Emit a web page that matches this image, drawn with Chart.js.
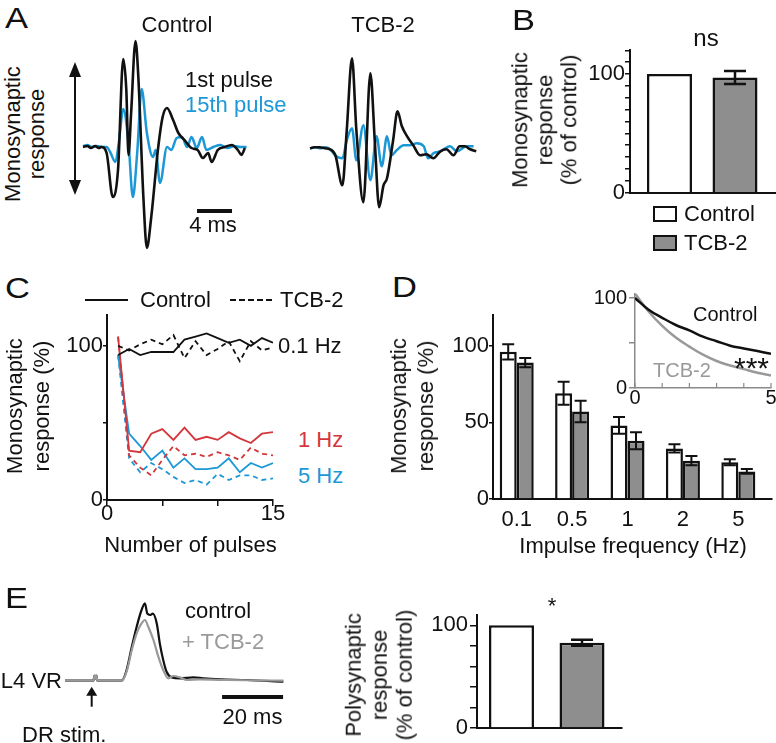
<!DOCTYPE html>
<html><head><meta charset="utf-8">
<script src="https://cdn.jsdelivr.net/npm/chart.js@4.4.1/dist/chart.umd.min.js"></script>
<style>
html,body{margin:0;padding:0;background:#fff;}
#fig{position:relative;width:776px;height:743px;overflow:hidden;font-family:"Liberation Sans",Arial,Helvetica,sans-serif;color:#111;}
#fig canvas{position:absolute;}
.t{position:absolute;white-space:pre;}
</style></head><body><div id="fig"></div>
<script>
// ---------------- DATA ----------------
// Panel A: example traces (time in ms, amplitude in arbitrary units)
const A_CTRL_1ST_T = [0,0.5,0.9,1.4,1.8,2.1,2.7,3.4,4.0,4.6,4.95,5.2,5.5,6.0,6.3,6.9,7.3,7.8,8.6,9.1,9.6,10.3,10.9,11.6,12.4,13.1,13.7,14.3,14.7,15.4,16.2,17.0,17.7,18.1,18.5];
const A_CTRL_1ST_V = [0,1,-1,1,-1,0,-6,-50,-23,88,57,-8,34,106,74,-50,-101,-70,0,30,39,27,14,7,-1,-3,-11,-6,-15,-3,0,2,-3,-8,-1];
const A_CTRL_15TH_T = [0,0.5,1.0,1.6,2.2,2.7,3.1,3.7,4.1,4.6,5.2,5.7,6.2,6.7,7.3,8.0,8.3,8.8,9.6,10.1,10.7,11.3,11.9,12.4,13.0,13.6,14.1,14.9,15.7,16.5,17.3,18.0,18.7];
const A_CTRL_15TH_V = [1,2,0,1,0,0,-5,-15,5,38,4,-50,-5,58,14,-10,-3,-36,0,-3,9,10,0,10,-1,10,-3,0,2,-1,1,0,0];
const A_TCB_1ST_T = [0,0.5,1.1,1.7,2.3,2.9,3.7,4.2,4.8,5.3,6.1,6.9,7.4,7.9,8.4,8.8,9.5,10.0,10.5,11.1,11.8,12.6,13.3,14.1,14.9,15.6,16.4,17.1,17.7,18.3,19.0];
const A_TCB_1ST_V = [0,1,1,0,-1,-7,-37,18,90,18,-54,75,8,-59,-37,-30,8,37,22,12,3,-7,-6,-10,-3,-1,-7,2,2,-1,-3];
const A_TCB_15TH_T = [0,0.6,1.2,1.8,2.4,3.0,3.7,4.2,4.8,5.3,6.1,6.9,7.6,8.2,8.8,9.3,9.9,10.7,11.4,12.2,13.0,13.5,14.1,14.9,16.0,16.8,17.9,18.7];
const A_TCB_15TH_V = [0,1,0,1,-2,-8,-10,8,20,-12,23,-32,12,-18,12,-7,-2,3,3,5,2,-10,-5,-3,2,-3,2,2];
const A_SCALE_MS = 4;

// Panel B
const B_CATEGORIES = ['Control','TCB-2'];
const B_VALUES = [100, 97];
const B_ERRORS = [0, 5.5];
const B_TICKS = [0,10,20,30,40,50,60,70,80,90,100,110,120];
const B_TICK_LABELS = [0,100];

// Panel C
const C_PULSES = [1,2,3,4,5,6,7,8,9,10,11,12,13,14,15];
const C_CTRL_01HZ = [94,98,94,96,96,96,104,106,108,105,102,104,100,105,102];
const C_TCB_01HZ  = [100,97,101,104,101,107,92,103,94,98,103,90,103,97,99];
const C_CTRL_1HZ  = [106,32,31,43,46,39,47,39,41,39,44,40,37,43,44];
const C_TCB_1HZ   = [106,29,21,16,26,35,29,30,28,31,29,26,34,30,29];
const C_CTRL_5HZ  = [94,43,35,26,32,21,27,20,20,21,27,18,24,21,24];
const C_TCB_5HZ   = [94,27,18,24,20,15,11,13,10,17,13,16,16,13,14];
const C_X_TICKS = [0,5,10,15];
const C_X_LABELS = [0,15];
const C_Y_TICKS = [0,50,100];
const C_Y_LABELS = [0,100];

// Panel D
const D_FREQS = ['0.1','0.5','1','2','5'];
const D_CTRL = [96,69,48,33,24];
const D_CTRL_ERR = [5,7.5,5.5,2.7,2];
const D_TCB = [89,57,38,25,18];
const D_TCB_ERR = [3,7,5.5,3,1.5];
const D_Y_TICKS = [0,50,100];
// inset: fitted decay curves
const D_INSET_X = [0,0.5,1,1.5,2,2.5,3,3.5,4,4.5,5];
const D_INSET_CTRL = [100,87,78,70,64,57,52,47,44,41,38];
const D_INSET_TCB  = [105,85,69,56,46,37,30,25,21,17,14];
const D_INSET_X_TICKS = [0,1,2,3,4,5];
const D_INSET_X_LABELS = [0,5];
const D_INSET_Y_TICKS = [0,50,100];
const D_INSET_Y_LABELS = [0,100];

// Panel E
const E_CTRL_T = [0,9.3,9.7,10.0,10.3,10.6,18.6,20.2,21.9,23.5,25.1,26.2,27.0,27.9,28.8,30.1,31.1,32.2,33.3,35.0,37.7,42.1,45.3,50.8,59.6,71.6];
const E_CTRL_V = [0,0,5,2,5,0,0,10.7,34,54,70.7,77.4,67,65.7,67,57,37,20.7,9,3.3,2.3,3.3,2.3,1.3,0.7,-1];
const E_TCB_T = [0,9.3,9.7,10.0,10.3,10.6,18.6,20.2,21.9,23.5,25.1,26.2,27.3,29.0,30.6,32.2,33.9,35.5,37.7,39.9,44.3,53.0,71.6];
const E_TCB_V = [0,0,5,2,5,0,0,9,30.7,47.3,57.3,60.7,54,40.7,24,10.7,2.3,4.7,3.3,0.7,1.3,0.7,0];
const E_SCALE_MS = 20;
const E_CATEGORIES = ['control','+ TCB-2'];
const E_VALUES = [100, 83];
const E_ERRORS = [0, 3];
const E_Y_TICKS = [0,20,40,60,80,100];
const E_Y_LABELS = [0,100];

// ---------------- SETUP ----------------
const INK = '#111';
const BLUE = '#1c98d6';
const RED = '#d4373b';
const GREY = '#999';
const BARGREY = '#8e8e8e';
Chart.defaults.font.family = '"Liberation Sans", Arial, Helvetica, sans-serif';
Chart.defaults.font.size = 22;
Chart.defaults.color = INK;
Chart.defaults.animation = false;
Chart.defaults.responsive = false;
Chart.defaults.plugins.legend.display = false;
Chart.defaults.plugins.tooltip.enabled = false;
Chart.defaults.events = [];

const fig = document.getElementById('fig');
function mkCanvas(left, top, w, h) {
  const c = document.createElement('canvas');
  c.width = w; c.height = h;
  c.style.left = left + 'px'; c.style.top = top + 'px';
  c.style.width = w + 'px'; c.style.height = h + 'px';
  fig.appendChild(c);
  return c;
}
function txt(s, x, capY, o = {}) {
  const size = o.size || 22;
  const d = document.createElement('div');
  d.className = 't'; d.textContent = s;
  d.style.fontSize = size + 'px'; d.style.lineHeight = size + 'px';
  d.style.top = (o.top != null ? o.top : capY - 0.4885 * size) + 'px';
  d.style.left = x + 'px';
  if (o.color) d.style.color = o.color;
  let tr = '';
  if (o.align === 'center') tr += 'translateX(-50%) ';
  else if (o.align === 'right') tr += 'translateX(-100%) ';
  if (o.sx) { tr += 'scaleX(' + o.sx + ')'; d.style.transformOrigin = 'left top'; }
  d.style.transform = tr;
  fig.appendChild(d);
  return d;
}
function vtxt(lines, cx, cy, lh, size = 22) {
  const d = document.createElement('div');
  d.className = 't'; d.textContent = lines.join('\n');
  d.style.fontSize = size + 'px'; d.style.lineHeight = lh + 'px';
  d.style.textAlign = 'center';
  d.style.left = cx + 'px'; d.style.top = cy + 'px';
  d.style.transform = 'translate(-50%,-50%) rotate(-90deg)';
  fig.appendChild(d);
}
function box(left, top, w, h, css) {
  const d = document.createElement('div');
  d.style.position = 'absolute';
  d.style.left = left + 'px'; d.style.top = top + 'px';
  d.style.width = w + 'px'; d.style.height = h + 'px';
  d.style.boxSizing = 'border-box';
  Object.assign(d.style, css);
  fig.appendChild(d);
}
function axis(o) {
  const tickLen = o.tickLen || 0;
  return {
    type: 'linear', min: o.min, max: o.max, position: o.position, offset: false,
    border: { display: true, color: o.color || INK, width: o.bw || 2 },
    grid: { display: true, offset: false, drawOnChartArea: false, drawTicks: tickLen !== 0, tickLength: tickLen, color: o.color || INK, lineWidth: o.tw || 1.5 },
    ticks: { display: o.labels !== false, padding: o.pad || 0, autoSkip: false, maxRotation: 0, minRotation: 0,
             font: { size: o.fs || 22, lineHeight: 1 }, color: INK, callback: o.cb || ((v) => '') },
    afterBuildTicks: (s) => { if (o.ticks) s.ticks = o.ticks.map(v => ({ value: v })); },
    afterFit: (s) => {
      if (o.position === 'bottom' || o.position === 'top') s.height = o.size; else s.width = o.size;
      s.paddingTop = s.paddingBottom = s.paddingLeft = s.paddingRight = 0;
    }
  };
}
function hidden(min, max) { return { type: 'linear', display: false, min, max }; }
function pts(xs, ys) { return xs.map((x, i) => ({ x, y: ys[i] })); }
function only(list) { return (v) => list.includes(v) ? String(v) : ''; }

// error bar plugin
Chart.register({
  id: 'errbars',
  afterDatasetsDraw(chart, args, opts) {
    if (!opts || !opts.errors) return;
    const ctx = chart.ctx, ys = chart.scales.y;
    ctx.save(); ctx.strokeStyle = INK; ctx.lineWidth = opts.lineWidth || 2;
    opts.errors.forEach((arr, di) => {
      const meta = chart.getDatasetMeta(di);
      meta.data.forEach((el, j) => {
        const e = arr[j]; if (!e) return;
        const raw = chart.data.datasets[di].data[j];
        const v = typeof raw === 'object' ? raw.y : raw;
        const y1 = ys.getPixelForValue(v + e), y2 = ys.getPixelForValue(v - e);
        const cw = opts.cap / 2;
        ctx.beginPath();
        ctx.moveTo(el.x, y1); ctx.lineTo(el.x, y2);
        ctx.moveTo(el.x - cw, y1); ctx.lineTo(el.x + cw, y1);
        ctx.moveTo(el.x - cw, y2); ctx.lineTo(el.x + cw, y2);
        ctx.stroke();
      });
    });
    ctx.restore();
  }
});
function arrowHead(ctx, x, y, w, h, dir) {
  ctx.beginPath();
  ctx.moveTo(x, y); ctx.lineTo(x - w / 2, y + dir * h); ctx.lineTo(x + w / 2, y + dir * h); ctx.closePath(); ctx.fill();
}
const traceLine = (color, w) => ({ borderColor: color, borderWidth: w, pointRadius: 0, cubicInterpolationMode: 'monotone', fill: false });

// ---------------- PANEL A ----------------
new Chart(mkCanvas(55, 30, 200, 230), {
  type: 'line',
  data: { datasets: [
    Object.assign({ data: pts(A_CTRL_1ST_T, A_CTRL_1ST_V) }, traceLine(INK, 2.6)),
    Object.assign({ data: pts(A_CTRL_15TH_T, A_CTRL_15TH_V) }, traceLine(BLUE, 2.5)),
  ]},
  options: {
    layout: { padding: 0 },
    scales: { x: hidden(-3.2, 19.657), y: hidden(-113, 117) }
  },
  plugins: [{ id: 'decoA', afterDatasetsDraw(chart) {
    const { ctx, scales: { x, y } } = chart;
    ctx.save(); ctx.fillStyle = INK; ctx.strokeStyle = INK;
    // double arrow
    const ax = x.getPixelForValue(-0.914), yt = y.getPixelForValue(85), yb = y.getPixelForValue(-48);
    ctx.lineWidth = 2; ctx.beginPath(); ctx.moveTo(ax, yt + 8); ctx.lineTo(ax, yb - 8); ctx.stroke();
    arrowHead(ctx, ax, yt, 12, 15, 1); arrowHead(ctx, ax, yb, 12, 15, -1);
    // scale bar
    const s0 = 13.03;
    ctx.lineWidth = 4; ctx.beginPath();
    ctx.moveTo(x.getPixelForValue(s0), y.getPixelForValue(-64));
    ctx.lineTo(x.getPixelForValue(s0 + A_SCALE_MS), y.getPixelForValue(-64)); ctx.stroke();
    ctx.restore();
  }}]
});
new Chart(mkCanvas(300, 30, 185, 230), {
  type: 'line',
  data: { datasets: [
    Object.assign({ data: pts(A_TCB_1ST_T, A_TCB_1ST_V) }, traceLine(INK, 2.6)),
    Object.assign({ data: pts(A_TCB_15TH_T, A_TCB_15TH_V) }, traceLine(BLUE, 2.5)),
  ]},
  options: { layout: { padding: 0 }, scales: { x: hidden(-1.143, 20.0), y: hidden(-111.7, 118.3) } }
});
txt('A', 5, 17.5, { size: 30, sx: 1.15 });
txt('Control', 177, 24.5, { align: 'center' });
txt('TCB-2', 383, 24.5, { align: 'center' });
txt('1st pulse', 185, 79.5);
txt('15th pulse', 185, 105, { color: BLUE });
txt('4 ms', 213, 224.5, { align: 'center' });
vtxt(['Monosynaptic', 'response'], 25, 134, 24);

// ---------------- PANEL B ----------------
new Chart(mkCanvas(560, 30, 216, 180), {
  type: 'bar',
  data: { datasets: [{
    data: pts([1, 2], B_VALUES),
    backgroundColor: ['#fff', BARGREY], borderColor: INK, borderWidth: 2.5,
    barPercentage: 0.687, categoryPercentage: 1
  }]},
  options: {
    layout: { padding: { top: 20.3, right: 0, left: 0, bottom: 0 } },
    scales: {
      x: axis({ min: 0.397, max: 2.626, position: 'bottom', size: 17.3, labels: false }),
      y: axis({ min: 0, max: 120, position: 'left', size: 70, tickLen: 5, pad: 0, ticks: B_TICKS, cb: only(B_TICK_LABELS) })
    },
    plugins: { errbars: { errors: [B_ERRORS], cap: 22, lineWidth: 2.5 } }
  }
});
txt('B', 512, 20, { size: 30, sx: 1.15 });
txt('ns', 706, null, { align: 'center', size: 24, top: 26 });
vtxt(['Monosynaptic', 'response', '(% of control)'], 545, 120, 24.5);
box(653, 206, 24, 16, { border: '2.5px solid ' + INK, background: '#fff' });
box(653, 235, 24, 16, { border: '2.5px solid ' + INK, background: BARGREY });
txt(B_CATEGORIES[0], 684, 214);
txt(B_CATEGORIES[1], 684, 242.5);

// ---------------- PANEL C ----------------
const cLine = (vals, color, dash) => ({ data: pts(C_PULSES, vals), borderColor: color, borderWidth: 1.8, borderDash: dash ? [5, 4] : [], pointRadius: 0, tension: 0, fill: false });
new Chart(mkCanvas(45, 295, 250, 250), {
  type: 'line',
  data: { datasets: [
    cLine(C_CTRL_01HZ, INK, false), cLine(C_TCB_01HZ, INK, true),
    cLine(C_CTRL_1HZ, RED, false), cLine(C_TCB_1HZ, RED, true),
    cLine(C_CTRL_5HZ, BLUE, false), cLine(C_TCB_5HZ, BLUE, true),
  ]},
  options: {
    layout: { padding: { top: 20, right: 22, left: 0, bottom: 0 } },
    scales: {
      x: axis({ min: 0, max: 15, position: 'bottom', size: 45, tickLen: 6, pad: -3, ticks: C_X_TICKS, cb: only(C_X_LABELS) }),
      y: axis({ min: 0, max: 120, position: 'left', size: 62, tickLen: 4, pad: 0, ticks: C_Y_TICKS, cb: only(C_Y_LABELS) })
    }
  }
});
txt('C', 5, 288, { size: 30, sx: 1.15 });
box(85, 299, 43, 2, { background: INK });
txt('Control', 140, 300);
box(230, 299, 42, 0, { borderTop: '2px dashed ' + INK });
txt('TCB-2', 280, 300);
txt('0.1 Hz', 278, 345.7);
txt('1 Hz', 298, 440, { color: RED });
txt('5 Hz', 298, 475.5, { color: BLUE });
txt('Number of pulses', 190.5, 545, { align: 'center' });
vtxt(['Monosynaptic', 'response (%)'], 28, 406, 27);

// ---------------- PANEL D ----------------
const dIdx = D_FREQS.map((_, i) => i);
new Chart(mkCanvas(420, 290, 356, 250), {
  type: 'bar',
  data: { datasets: [
    { data: pts(dIdx, D_CTRL), backgroundColor: '#fff', borderColor: INK, borderWidth: 2.5, barPercentage: 1, categoryPercentage: 0.614 },
    { data: pts(dIdx, D_TCB), backgroundColor: BARGREY, borderColor: INK, borderWidth: 2.5, barPercentage: 1, categoryPercentage: 0.614 }
  ]},
  options: {
    layout: { padding: { top: 25, right: 4, left: 0, bottom: 0 } },
    scales: {
      x: axis({ min: -0.428, max: 4.608, position: 'bottom', size: 41, tickLen: 0, pad: 9.5, ticks: dIdx, cb: (v) => D_FREQS[v] ?? '' }),
      y: axis({ min: 0, max: 120, position: 'left', size: 73, tickLen: 4, pad: 0, ticks: D_Y_TICKS, cb: (v) => String(v) })
    },
    plugins: { errbars: { errors: [D_CTRL_ERR, D_TCB_ERR], cap: 12, lineWidth: 2 } }
  }
});
new Chart(mkCanvas(585, 280, 191, 130), {
  type: 'line',
  data: { datasets: [
    { data: pts(D_INSET_X, D_INSET_CTRL), borderColor: INK, borderWidth: 2.5, pointRadius: 0, tension: 0.4, fill: false },
    { data: pts(D_INSET_X, D_INSET_TCB), borderColor: GREY, borderWidth: 2.5, pointRadius: 0, tension: 0.4, fill: false }
  ]},
  options: {
    layout: { padding: { top: 13.5, right: 5, left: 0, bottom: 0 } },
    scales: {
      x: axis({ min: 0, max: 5, position: 'bottom', size: 22, tickLen: 0, pad: 0, fs: 20, color: '#8a8a8a', bw: 1.5, ticks: D_INSET_X_TICKS, cb: only(D_INSET_X_LABELS) }),
      y: axis({ min: 0, max: 105, position: 'left', size: 50, tickLen: 6, pad: 2, fs: 20, color: '#8a8a8a', bw: 1.5, ticks: D_INSET_Y_TICKS, cb: only(D_INSET_Y_LABELS) })
    }
  },
  plugins: [{ id: 'insetTicks', afterDraw(chart) {
    const { ctx, scales: { x, y } } = chart;
    ctx.save(); ctx.strokeStyle = '#8a8a8a'; ctx.lineWidth = 1.2;
    const y0 = y.getPixelForValue(0);
    D_INSET_X_TICKS.forEach(t => { const px = x.getPixelForValue(t); ctx.beginPath(); ctx.moveTo(px, y0); ctx.lineTo(px, y0 - 5); ctx.stroke(); });
    ctx.restore();
  }}]
});
txt('D', 392, 287, { size: 30, sx: 1.15 });
txt('Control', 693, 313.3, { size: 20 });
txt('TCB-2', 653, 369.5, { size: 20, color: GREY });
txt('***', 734, null, { size: 30, top: 353 });
txt('Impulse frequency (Hz)', 633, 546, { align: 'center' });
vtxt(['Monosynaptic', 'response (%)'], 411.5, 406, 27);

// ---------------- PANEL E ----------------
new Chart(mkCanvas(60, 590, 235, 125), {
  type: 'line',
  data: { datasets: [
    Object.assign({ data: pts(E_TCB_T, E_TCB_V) }, traceLine(GREY, 2.2)),
    Object.assign({ data: pts(E_CTRL_T, E_CTRL_V) }, traceLine(INK, 2.2)),
  ]},
  options: { layout: { padding: 0 }, scales: { x: hidden(-1.64, 75.41), y: hidden(-34.3, 90.7) } },
  plugins: [{ id: 'decoE', afterDatasetsDraw(chart) {
    const { ctx, scales: { x, y } } = chart;
    ctx.save(); ctx.fillStyle = INK; ctx.strokeStyle = INK;
    const ax = x.getPixelForValue(8.75), yt = y.getPixelForValue(-6), yb = y.getPixelForValue(-26);
    ctx.lineWidth = 2; ctx.beginPath(); ctx.moveTo(ax, yt + 6); ctx.lineTo(ax, yb); ctx.stroke();
    arrowHead(ctx, ax, yt, 11, 9, 1);
    const s0 = 51.5;
    ctx.lineWidth = 4; ctx.beginPath();
    ctx.moveTo(x.getPixelForValue(s0), y.getPixelForValue(-16.3));
    ctx.lineTo(x.getPixelForValue(s0 + E_SCALE_MS), y.getPixelForValue(-16.3)); ctx.stroke();
    ctx.restore();
  }}]
});
new Chart(mkCanvas(410, 595, 225, 148), {
  type: 'bar',
  data: { datasets: [{
    data: pts([1, 2], E_VALUES),
    backgroundColor: ['#fff', BARGREY], borderColor: INK, borderWidth: 2.5,
    barPercentage: 0.638, categoryPercentage: 1
  }]},
  options: {
    layout: { padding: { top: 20, right: 13, left: 0, bottom: 0 } },
    scales: {
      x: axis({ min: 0.511, max: 2.567, position: 'bottom', size: 15, labels: false }),
      y: axis({ min: 0, max: 110, position: 'left', size: 67, tickLen: 7, pad: 2, ticks: E_Y_TICKS, cb: only(E_Y_LABELS) })
    },
    plugins: { errbars: { errors: [E_ERRORS], cap: 22, lineWidth: 2.5 } }
  }
});
txt('E', 5, 598, { size: 30, sx: 1.15 });
txt('L4 VR', 62, 681, { align: 'right' });
txt('DR stim.', 22, 734.5);
txt('20 ms', 252.5, 716.5, { align: 'center' });
txt(E_CATEGORIES[0], 185, 610.5);
txt(E_CATEGORIES[1], 182, 641.7, { color: GREY });
txt('*', 552, null, { align: 'center', top: 595 });
vtxt(['Polysynaptic', 'response', '(% of control)'], 378.5, 675, 25.5);
</script></body></html>
